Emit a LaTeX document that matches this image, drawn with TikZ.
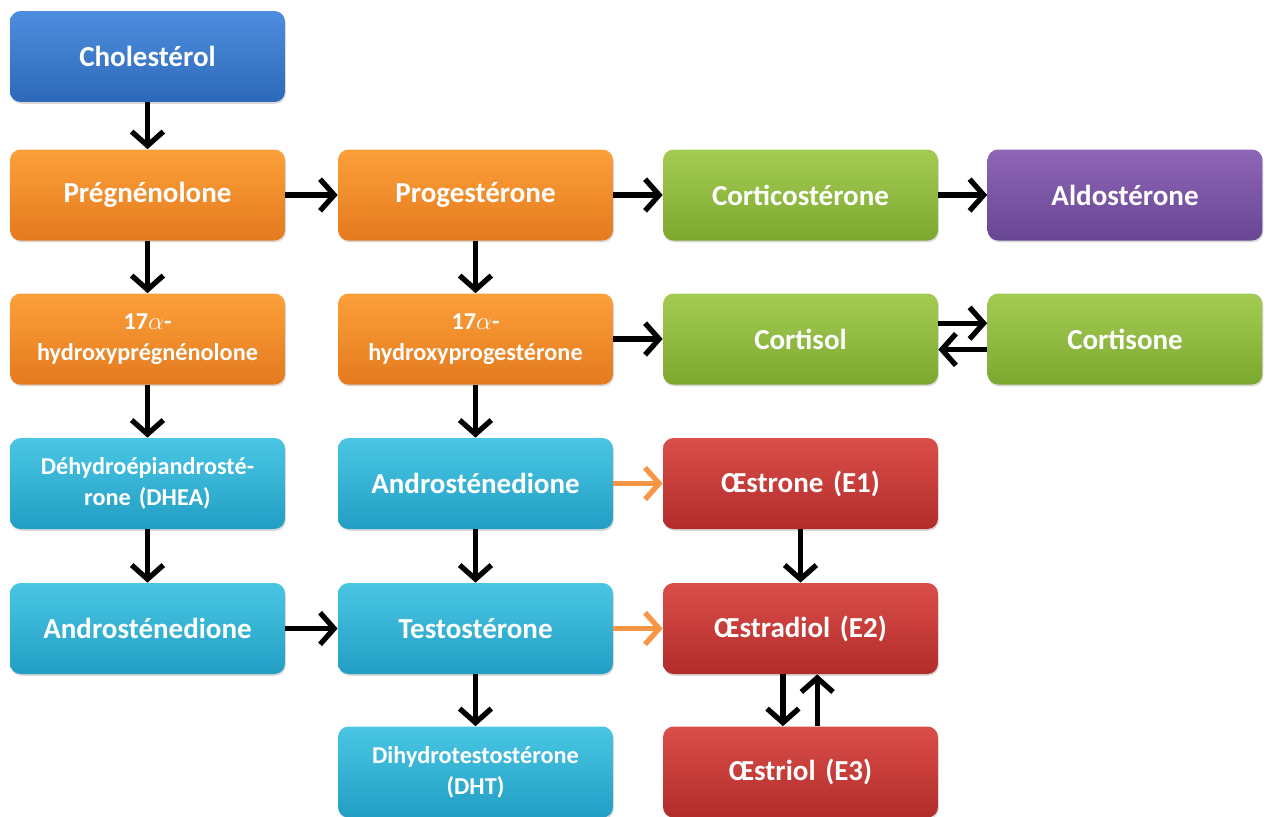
\documentclass[tikz,border=0pt]{standalone}
\usepackage{fontspec}
\setmainfont{Carlito}
\usetikzlibrary{arrows.meta,shadows}

\definecolor{bleuH}{RGB}{78,142,222}
\definecolor{bleuB}{RGB}{45,104,184}
\definecolor{orangeH}{RGB}{252,160,58}
\definecolor{orangeB}{RGB}{228,122,30}
\definecolor{vertH}{RGB}{164,204,84}
\definecolor{vertB}{RGB}{124,168,48}
\definecolor{violetH}{RGB}{142,102,182}
\definecolor{violetB}{RGB}{104,70,148}
\definecolor{cyanH}{RGB}{74,198,228}
\definecolor{cyanB}{RGB}{34,158,196}
\definecolor{rougeH}{RGB}{218,78,72}
\definecolor{rougeB}{RGB}{178,44,44}
\definecolor{flOrange}{RGB}{247,150,70}

\begin{document}
\begin{tikzpicture}[x=0.02cm,y=-0.02cm]
\tikzset{
  box/.style={rectangle, rounded corners=6pt, minimum width=5.5cm, minimum height=1.82cm,
    inner sep=0pt, text width=5.3cm, align=center, text=white,
    font=\bfseries\fontsize{16.5}{19}\selectfont,
    drop shadow={shadow xshift=0.5pt, shadow yshift=-1pt, opacity=0.3}},
  petit/.style={font=\bfseries\fontsize{13.8}{17.5}\selectfont},
  bleu/.style={top color=bleuH, bottom color=bleuB},
  orange/.style={top color=orangeH, bottom color=orangeB},
  vert/.style={top color=vertH, bottom color=vertB},
  violet/.style={top color=violetH, bottom color=violetB},
  cyan/.style={top color=cyanH, bottom color=cyanB},
  rouge/.style={top color=rougeH, bottom color=rougeB},
  fl/.style={line width=3pt, -{Straight Barb[length=8pt,width=18pt]}},
  flo/.style={fl, draw=flOrange}
}
\useasboundingbox (0,0) rectangle (1268,816);

\node[box, bleu] (chol) at (147.5,56.5) {Cholestérol};
\node[box, orange] (preg) at (147.5,195) {Prégnénolone};
\node[box, orange] (prog) at (475.5,195) {Progestérone};
\node[box, vert] (corticost) at (800.5,195) {Corticostérone};
\node[box, violet] (aldo) at (1125,195) {Aldostérone};
\node[box, orange, petit] (ohpreg) at (147.5,339) {17$\alpha$-\\hydroxyprégnénolone};
\node[box, orange, petit] (ohprog) at (475.5,339) {17$\alpha$-\\hydroxyprogestérone};
\node[box, vert] (cortisol) at (800.5,339) {Cortisol};
\node[box, vert] (cortisone) at (1125,339) {Cortisone};
\node[box, cyan, petit] (dhea) at (147.5,483.5) {Déhydroépiandrosté-\\rone (DHEA)};
\node[box, cyan] (andro) at (475.5,483.5) {Androsténedione};
\node[box, rouge] (e1) at (800.5,483.5) {Œstrone (E1)};
\node[box, cyan] (androb) at (147.5,628.5) {Androsténedione};
\node[box, cyan] (testo) at (475.5,628.5) {Testostérone};
\node[box, rouge] (e2) at (800.5,628.5) {Œstradiol (E2)};
\node[box, cyan, petit] (dht) at (475.5,772) {Dihydrotestostérone\\(DHT)};
\node[box, rouge] (e3) at (800.5,772) {Œstriol (E3)};

\draw[fl] (chol) -- (preg);
\draw[fl] (preg) -- (prog);
\draw[fl] (prog) -- (corticost);
\draw[fl] (corticost) -- (aldo);
\draw[fl] (preg) -- (ohpreg);
\draw[fl] (prog) -- (ohprog);
\draw[fl] (ohprog) -- (cortisol);
\draw[fl] ([yshift=9pt]cortisol.east) -- ([yshift=9pt]cortisone.west);
\draw[fl] ([yshift=-6pt]cortisone.west) -- ([yshift=-6pt]cortisol.east);
\draw[fl] (ohpreg) -- (dhea);
\draw[fl] (ohprog) -- (andro);
\draw[flo] (andro) -- (e1);
\draw[fl] (dhea) -- (androb);
\draw[fl] (andro) -- (testo);
\draw[fl] (e1) -- (e2);
\draw[fl] (androb) -- (testo);
\draw[flo] (testo) -- (e2);
\draw[fl] (testo) -- (dht);
\draw[fl] ([xshift=-10pt]e2.south) -- ([xshift=-10pt]e3.north);
\draw[fl] ([xshift=9.5pt]e3.north) -- ([xshift=9.5pt]e2.south);
\end{tikzpicture}
\end{document}
